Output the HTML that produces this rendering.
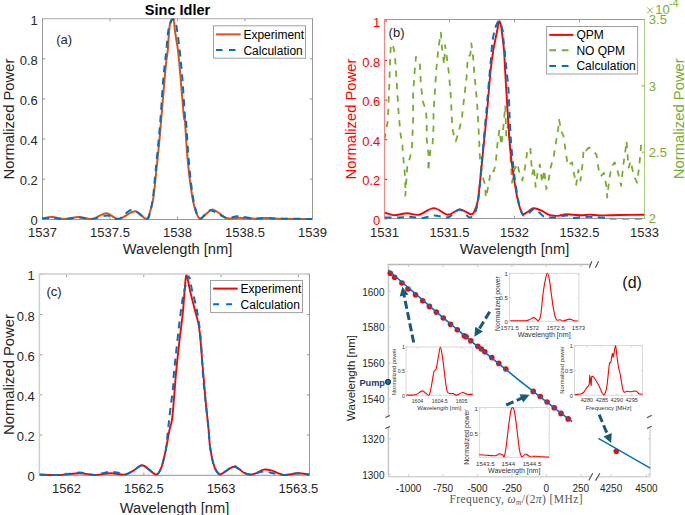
<!DOCTYPE html>
<html><head><meta charset="utf-8"><title>Figure</title>
<style>html,body{margin:0;padding:0;background:#fff;}body{width:685px;height:515px;overflow:hidden;}svg{display:block;}</style>
</head><body>
<svg width="685" height="515" viewBox="0 0 685 515">
<rect width="685" height="515" fill="#fff"/>
<defs>
<clipPath id="clipA"><rect x="41.5" y="18.6" width="271.0" height="202.8"/></clipPath>
<clipPath id="clipB"><rect x="384.5" y="19.5" width="260.0" height="200.0"/></clipPath>
<clipPath id="clipC"><rect x="39.5" y="274.4" width="270.0" height="201.8"/></clipPath>
</defs>
<line x1="42.5" y1="219.4" x2="42.5" y2="216.70000000000002" stroke="#999999" stroke-width="1" />
<line x1="42.5" y1="18.6" x2="42.5" y2="21.3" stroke="#999999" stroke-width="1" />
<text x="42.5" y="236.6" font-size="13" text-anchor="middle" fill="#262626" font-weight="normal" font-family='"Liberation Sans", sans-serif' >1537</text>
<line x1="110.0" y1="219.4" x2="110.0" y2="216.70000000000002" stroke="#999999" stroke-width="1" />
<line x1="110.0" y1="18.6" x2="110.0" y2="21.3" stroke="#999999" stroke-width="1" />
<text x="110.0" y="236.6" font-size="13" text-anchor="middle" fill="#262626" font-weight="normal" font-family='"Liberation Sans", sans-serif' >1537.5</text>
<line x1="177.5" y1="219.4" x2="177.5" y2="216.70000000000002" stroke="#999999" stroke-width="1" />
<line x1="177.5" y1="18.6" x2="177.5" y2="21.3" stroke="#999999" stroke-width="1" />
<text x="177.5" y="236.6" font-size="13" text-anchor="middle" fill="#262626" font-weight="normal" font-family='"Liberation Sans", sans-serif' >1538</text>
<line x1="245.0" y1="219.4" x2="245.0" y2="216.70000000000002" stroke="#999999" stroke-width="1" />
<line x1="245.0" y1="18.6" x2="245.0" y2="21.3" stroke="#999999" stroke-width="1" />
<text x="245.0" y="236.6" font-size="13" text-anchor="middle" fill="#262626" font-weight="normal" font-family='"Liberation Sans", sans-serif' >1538.5</text>
<line x1="312.5" y1="219.4" x2="312.5" y2="216.70000000000002" stroke="#999999" stroke-width="1" />
<line x1="312.5" y1="18.6" x2="312.5" y2="21.3" stroke="#999999" stroke-width="1" />
<text x="312.5" y="236.6" font-size="13" text-anchor="middle" fill="#262626" font-weight="normal" font-family='"Liberation Sans", sans-serif' >1539</text>
<line x1="42.5" y1="219.4" x2="45.2" y2="219.4" stroke="#999999" stroke-width="1" />
<line x1="312.5" y1="219.4" x2="309.8" y2="219.4" stroke="#999999" stroke-width="1" />
<text x="37.8" y="225.4" font-size="13" text-anchor="end" fill="#262626" font-weight="normal" font-family='"Liberation Sans", sans-serif' >0</text>
<line x1="42.5" y1="179.24" x2="45.2" y2="179.24" stroke="#999999" stroke-width="1" />
<line x1="312.5" y1="179.24" x2="309.8" y2="179.24" stroke="#999999" stroke-width="1" />
<text x="37.8" y="185.24" font-size="13" text-anchor="end" fill="#262626" font-weight="normal" font-family='"Liberation Sans", sans-serif' >0.2</text>
<line x1="42.5" y1="139.07999999999998" x2="45.2" y2="139.07999999999998" stroke="#999999" stroke-width="1" />
<line x1="312.5" y1="139.07999999999998" x2="309.8" y2="139.07999999999998" stroke="#999999" stroke-width="1" />
<text x="37.8" y="145.07999999999998" font-size="13" text-anchor="end" fill="#262626" font-weight="normal" font-family='"Liberation Sans", sans-serif' >0.4</text>
<line x1="42.5" y1="98.92" x2="45.2" y2="98.92" stroke="#999999" stroke-width="1" />
<line x1="312.5" y1="98.92" x2="309.8" y2="98.92" stroke="#999999" stroke-width="1" />
<text x="37.8" y="104.92" font-size="13" text-anchor="end" fill="#262626" font-weight="normal" font-family='"Liberation Sans", sans-serif' >0.6</text>
<line x1="42.5" y1="58.75999999999999" x2="45.2" y2="58.75999999999999" stroke="#999999" stroke-width="1" />
<line x1="312.5" y1="58.75999999999999" x2="309.8" y2="58.75999999999999" stroke="#999999" stroke-width="1" />
<text x="37.8" y="64.75999999999999" font-size="13" text-anchor="end" fill="#262626" font-weight="normal" font-family='"Liberation Sans", sans-serif' >0.8</text>
<line x1="42.5" y1="18.599999999999994" x2="45.2" y2="18.599999999999994" stroke="#999999" stroke-width="1" />
<line x1="312.5" y1="18.599999999999994" x2="309.8" y2="18.599999999999994" stroke="#999999" stroke-width="1" />
<text x="37.8" y="24.599999999999994" font-size="13" text-anchor="end" fill="#262626" font-weight="normal" font-family='"Liberation Sans", sans-serif' >1</text>
<line x1="42.5" y1="18.6" x2="312.5" y2="18.6" stroke="#bababa" stroke-width="1.2" />
<line x1="42.5" y1="219.5" x2="312.5" y2="219.5" stroke="#999999" stroke-width="1" />
<line x1="42.5" y1="18.5" x2="42.5" y2="219.5" stroke="#999999" stroke-width="1" />
<line x1="312.5" y1="18.5" x2="312.5" y2="219.5" stroke="#999999" stroke-width="1" />
<text x="177.5" y="15" font-size="14.5" text-anchor="middle" fill="#000" font-weight="bold" font-family='"Liberation Sans", sans-serif' >Sinc Idler</text>
<text x="177.5" y="253.8" font-size="14.7" text-anchor="middle" fill="#262626" font-weight="normal" font-family='"Liberation Sans", sans-serif' >Wavelength [nm]</text>
<text x="13.5" y="119" font-size="14.8" text-anchor="middle" fill="#262626" font-weight="normal" font-family='"Liberation Sans", sans-serif' transform="rotate(-90 13.5 119)" >Normalized Power</text>
<text x="56.2" y="43.7" font-size="13" text-anchor="start" fill="#262626" font-weight="normal" font-family='"Liberation Sans", sans-serif' >(a)</text>
<g clip-path="url(#clipA)">
<path d="M42.00,218.60 C43.70,218.33 48.45,216.93 52.20,217.00 C55.95,217.07 60.07,219.00 64.50,219.00 C68.93,219.00 74.20,217.00 78.80,217.00 C83.40,217.00 87.50,219.62 92.10,219.00 C96.70,218.38 101.98,213.30 106.40,213.30 C110.82,213.30 113.83,219.33 118.60,219.00 C123.37,218.67 130.40,211.30 135.00,211.30 C139.60,211.30 143.65,219.07 146.20,219.00 C148.75,218.93 149.10,214.47 150.30,210.90 C151.50,207.33 152.40,204.25 153.40,197.60 C154.40,190.95 155.30,180.53 156.30,171.00 C157.30,161.47 158.55,149.40 159.40,140.40 C160.25,131.40 160.55,127.02 161.40,117.00 C162.25,106.98 163.70,89.47 164.50,80.30 C165.30,71.13 165.65,67.05 166.20,62.00 C166.75,56.95 167.38,54.17 167.80,50.00 C168.22,45.83 168.38,41.05 168.70,37.00 C169.02,32.95 169.15,28.75 169.70,25.70 C170.25,22.65 171.28,19.35 172.00,18.70 C172.72,18.05 173.53,20.00 174.00,21.80 C174.47,23.60 174.42,26.53 174.80,29.50 C175.18,32.47 175.72,35.70 176.30,39.60 C176.88,43.50 177.55,46.12 178.30,52.90 C179.05,59.68 179.87,69.62 180.80,80.30 C181.73,90.98 183.22,110.38 183.90,117.00 C184.58,123.62 184.40,114.40 184.90,120.00 C185.40,125.60 186.05,140.40 186.90,150.60 C187.75,160.80 188.80,172.02 190.00,181.20 C191.20,190.38 192.48,199.47 194.10,205.70 C195.72,211.93 197.67,217.23 199.70,218.60 C201.73,219.97 204.18,215.43 206.30,213.90 C208.42,212.37 210.22,209.48 212.40,209.40 C214.58,209.32 216.92,211.92 219.40,213.40 C221.88,214.88 224.02,217.58 227.30,218.30 C230.58,219.02 234.50,217.63 239.10,217.70 C243.70,217.77 250.30,218.67 254.90,218.70 C259.50,218.73 262.77,217.90 266.70,217.90 C270.63,217.90 270.95,218.53 278.50,218.70 C286.05,218.87 306.42,218.87 312.00,218.90" fill="none" stroke="#D95319" stroke-width="2" stroke-linejoin="round" />
<path d="M42.00,218.60 C43.67,218.50 48.25,217.93 52.00,218.00 C55.75,218.07 60.03,219.08 64.50,219.00 C68.97,218.92 74.20,217.50 78.80,217.50 C83.40,217.50 87.33,219.33 92.10,219.00 C96.87,218.67 102.98,215.50 107.40,215.50 C111.82,215.50 114.50,219.93 118.60,219.00 C122.70,218.07 127.35,209.90 132.00,209.90 C136.65,209.90 143.45,218.83 146.50,219.00 C149.55,219.17 149.22,214.47 150.30,210.90 C151.38,207.33 152.12,204.25 153.00,197.60 C153.88,190.95 154.67,180.53 155.60,171.00 C156.53,161.47 157.77,149.40 158.60,140.40 C159.43,131.40 159.83,127.02 160.60,117.00 C161.37,106.98 162.47,89.47 163.20,80.30 C163.93,71.13 164.47,67.05 165.00,62.00 C165.53,56.95 165.98,54.17 166.40,50.00 C166.82,45.83 167.02,41.00 167.50,37.00 C167.98,33.00 168.38,29.00 169.30,26.00 C170.22,23.00 171.88,19.33 173.00,19.00 C174.12,18.67 175.23,21.50 176.00,24.00 C176.77,26.50 177.10,30.50 177.60,34.00 C178.10,37.50 178.55,41.33 179.00,45.00 C179.45,48.67 179.72,50.12 180.30,56.00 C180.88,61.88 181.72,70.13 182.50,80.30 C183.28,90.47 184.42,110.38 185.00,117.00 C185.58,123.62 185.50,114.40 186.00,120.00 C186.50,125.60 187.20,140.40 188.00,150.60 C188.80,160.80 189.70,172.02 190.80,181.20 C191.90,190.38 193.12,199.47 194.60,205.70 C196.08,211.93 197.75,217.40 199.70,218.60 C201.65,219.80 204.35,214.27 206.30,212.90 C208.25,211.53 209.22,210.15 211.40,210.40 C213.58,210.65 216.75,213.08 219.40,214.40 C222.05,215.72 224.18,217.98 227.30,218.30 C230.42,218.62 233.50,216.23 238.10,216.30 C242.70,216.37 250.13,218.43 254.90,218.70 C259.67,218.97 262.77,217.90 266.70,217.90 C270.63,217.90 270.95,218.53 278.50,218.70 C286.05,218.87 306.42,218.87 312.00,218.90" fill="none" stroke="#0072BD" stroke-width="2" stroke-linejoin="round" stroke-dasharray="7,5.4" />
</g>
<rect x="213.5" y="25.8" width="92" height="32.4" fill="#fff" stroke="#a0a0a0" stroke-width="1"/>
<line x1="216" y1="34.4" x2="240.6" y2="34.4" stroke="#D95319" stroke-width="2" />
<line x1="216" y1="50" x2="235.5" y2="50" stroke="#0072BD" stroke-width="2" stroke-dasharray="6.5,6.5"/>
<text x="243.4" y="38.9" font-size="12" text-anchor="start" fill="#000" font-weight="normal" font-family='"Liberation Sans", sans-serif' >Experiment</text>
<text x="243.4" y="54.5" font-size="12" text-anchor="start" fill="#000" font-weight="normal" font-family='"Liberation Sans", sans-serif' >Calculation</text>
<line x1="384.5" y1="218.5" x2="384.5" y2="215.8" stroke="#999999" stroke-width="1" />
<line x1="384.5" y1="19.5" x2="384.5" y2="22.2" stroke="#999999" stroke-width="1" />
<text x="384.5" y="236.6" font-size="13" text-anchor="middle" fill="#262626" font-weight="normal" font-family='"Liberation Sans", sans-serif' >1531</text>
<line x1="449.5" y1="218.5" x2="449.5" y2="215.8" stroke="#999999" stroke-width="1" />
<line x1="449.5" y1="19.5" x2="449.5" y2="22.2" stroke="#999999" stroke-width="1" />
<text x="449.5" y="236.6" font-size="13" text-anchor="middle" fill="#262626" font-weight="normal" font-family='"Liberation Sans", sans-serif' >1531.5</text>
<line x1="514.5" y1="218.5" x2="514.5" y2="215.8" stroke="#999999" stroke-width="1" />
<line x1="514.5" y1="19.5" x2="514.5" y2="22.2" stroke="#999999" stroke-width="1" />
<text x="514.5" y="236.6" font-size="13" text-anchor="middle" fill="#262626" font-weight="normal" font-family='"Liberation Sans", sans-serif' >1532</text>
<line x1="579.5" y1="218.5" x2="579.5" y2="215.8" stroke="#999999" stroke-width="1" />
<line x1="579.5" y1="19.5" x2="579.5" y2="22.2" stroke="#999999" stroke-width="1" />
<text x="579.5" y="236.6" font-size="13" text-anchor="middle" fill="#262626" font-weight="normal" font-family='"Liberation Sans", sans-serif' >1532.5</text>
<line x1="644.5" y1="218.5" x2="644.5" y2="215.8" stroke="#999999" stroke-width="1" />
<line x1="644.5" y1="19.5" x2="644.5" y2="22.2" stroke="#999999" stroke-width="1" />
<text x="644.5" y="236.6" font-size="13" text-anchor="middle" fill="#262626" font-weight="normal" font-family='"Liberation Sans", sans-serif' >1533</text>
<line x1="384.5" y1="218.9" x2="387.2" y2="218.9" stroke="#FF0000" stroke-width="1" />
<text x="380.3" y="224.9" font-size="13" text-anchor="end" fill="#FF0000" font-weight="normal" font-family='"Liberation Sans", sans-serif' >0</text>
<line x1="384.5" y1="179.32" x2="387.2" y2="179.32" stroke="#FF0000" stroke-width="1" />
<text x="380.3" y="185.32" font-size="13" text-anchor="end" fill="#FF0000" font-weight="normal" font-family='"Liberation Sans", sans-serif' >0.2</text>
<line x1="384.5" y1="139.74" x2="387.2" y2="139.74" stroke="#FF0000" stroke-width="1" />
<text x="380.3" y="145.74" font-size="13" text-anchor="end" fill="#FF0000" font-weight="normal" font-family='"Liberation Sans", sans-serif' >0.4</text>
<line x1="384.5" y1="100.16000000000001" x2="387.2" y2="100.16000000000001" stroke="#FF0000" stroke-width="1" />
<text x="380.3" y="106.16000000000001" font-size="13" text-anchor="end" fill="#FF0000" font-weight="normal" font-family='"Liberation Sans", sans-serif' >0.6</text>
<line x1="384.5" y1="60.579999999999984" x2="387.2" y2="60.579999999999984" stroke="#FF0000" stroke-width="1" />
<text x="380.3" y="66.57999999999998" font-size="13" text-anchor="end" fill="#FF0000" font-weight="normal" font-family='"Liberation Sans", sans-serif' >0.8</text>
<line x1="384.5" y1="21.0" x2="387.2" y2="21.0" stroke="#FF0000" stroke-width="1" />
<text x="380.3" y="27.0" font-size="13" text-anchor="end" fill="#FF0000" font-weight="normal" font-family='"Liberation Sans", sans-serif' >1</text>
<line x1="644.5" y1="218.5" x2="641.8" y2="218.5" stroke="#77AC30" stroke-width="1" />
<text x="648.8" y="223.4" font-size="13" text-anchor="start" fill="#77AC30" font-weight="normal" font-family='"Liberation Sans", sans-serif' >2</text>
<line x1="644.5" y1="152.16666666666669" x2="641.8" y2="152.16666666666669" stroke="#77AC30" stroke-width="1" />
<text x="648.8" y="157.0666666666667" font-size="13" text-anchor="start" fill="#77AC30" font-weight="normal" font-family='"Liberation Sans", sans-serif' >2.5</text>
<line x1="644.5" y1="85.83333333333334" x2="641.8" y2="85.83333333333334" stroke="#77AC30" stroke-width="1" />
<text x="648.8" y="90.73333333333335" font-size="13" text-anchor="start" fill="#77AC30" font-weight="normal" font-family='"Liberation Sans", sans-serif' >3</text>
<line x1="644.5" y1="19.5" x2="641.8" y2="19.5" stroke="#77AC30" stroke-width="1" />
<text x="648.8" y="24.4" font-size="13" text-anchor="start" fill="#77AC30" font-weight="normal" font-family='"Liberation Sans", sans-serif' >3.5</text>
<line x1="384.5" y1="19.5" x2="644.5" y2="19.5" stroke="#999999" stroke-width="1" />
<line x1="384.5" y1="218.5" x2="644.5" y2="218.5" stroke="#999999" stroke-width="1" />
<line x1="384.5" y1="19.5" x2="384.5" y2="218.5" stroke="#ff8080" stroke-width="1" />
<line x1="644.5" y1="19.5" x2="644.5" y2="218.5" stroke="#a8cc80" stroke-width="1" />
<line x1="647.2" y1="7.4" x2="652.8" y2="13.2" stroke="#77AC30" stroke-width="0.9" />
<line x1="647.2" y1="13.2" x2="652.8" y2="7.4" stroke="#77AC30" stroke-width="0.9" />
<text x="655.2" y="13.7" font-size="13" text-anchor="start" fill="#77AC30" font-weight="normal" font-family='"Liberation Sans", sans-serif' >10</text>
<text x="669.3" y="6.9" font-size="10.3" text-anchor="start" fill="#77AC30" font-weight="normal" font-family='"Liberation Sans", sans-serif' >-4</text>
<text x="514.5" y="253.8" font-size="14.7" text-anchor="middle" fill="#262626" font-weight="normal" font-family='"Liberation Sans", sans-serif' >Wavelength [nm]</text>
<text x="356" y="119" font-size="14.8" text-anchor="middle" fill="#FF0000" font-weight="normal" font-family='"Liberation Sans", sans-serif' transform="rotate(-90 356 119)" >Normalized Power</text>
<text x="684" y="118.7" font-size="14.8" text-anchor="middle" fill="#77AC30" font-weight="normal" font-family='"Liberation Sans", sans-serif' transform="rotate(-90 684 118.7)" >Normalized Power</text>
<text x="388.6" y="37.2" font-size="13" text-anchor="start" fill="#262626" font-weight="normal" font-family='"Liberation Sans", sans-serif' >(b)</text>
<g clip-path="url(#clipB)">
<polyline points="384.5,139.4 387.9,120.0 390.8,44.3 392.7,44.3 394.7,53.0 396.6,80.0 398.6,113.0 400.5,133.6 402.4,145.2 403.4,158.8 405.3,178.2 405.3,195.7 407.3,166.6 410.2,156.9 412.1,145.2 413.1,120.0 413.1,93.7 415.0,66.6 416.0,56.9 418.0,61.7 419.9,64.6 420.9,84.0 422.8,101.5 425.7,109.3 426.7,120.0 426.7,139.4 428.6,155.0 428.2,171.4 430.6,148.1 432.5,145.2 433.5,127.8 433.5,113.0 436.4,68.5 438.3,49.1 440.8,32.6 442.2,49.1 444.1,64.6 445.1,45.2 447.1,58.8 449.0,74.3 450.9,97.6 451.9,120.0 452.9,131.6 455.8,141.3 458.7,131.6 461.6,120.0 463.5,103.4 466.5,78.2 467.8,56.9 470.3,54.9 471.3,43.3 473.3,58.8 474.2,72.4 475.2,82.1 477.1,103.4 478.1,120.0 479.1,139.4 480.0,158.8 482.0,174.3 484.9,184.0 485.9,197.6 488.8,184.0 490.7,170.4 493.6,171.4 495.6,164.6 497.5,143.3 499.4,129.7 501.4,145.2 503.3,127.8 505.3,105.4 506.2,135.5 508.2,123.9 510.0,150.0 512.1,182.6 514.3,169.8 517.5,163.4 519.6,174.1 522.4,180.5 525.0,167.7 527.1,152.7 530.3,147.4 531.4,163.4 532.4,174.1 533.9,166.6 535.6,186.9 537.4,174.1 539.9,164.5 542.1,182.6 544.2,169.8 546.3,189.1 548.5,180.5 550.6,167.7 553.8,155.9 556.0,142.0 558.1,129.2 559.1,119.6 561.3,131.4 563.4,135.6 565.6,150.6 567.7,165.6 572.0,162.4 574.1,174.1 576.2,184.8 578.4,169.8 580.5,180.5 582.6,163.4 583.7,148.5 585.9,150.6 589.1,147.4 592.3,149.5 596.5,154.9 598.7,169.8 600.8,176.2 604.0,173.0 606.2,184.8 607.2,197.6 609.4,178.4 611.5,166.6 614.7,162.4 617.9,172.0 621.1,185.9 623.2,165.6 625.4,150.6 626.5,141.0 628.6,167.7 630.7,161.3 633.9,176.2 637.1,182.6 639.3,165.6 641.4,142.0 643.5,144.2" fill="none" stroke="#77AC30" stroke-width="1.8" stroke-linejoin="round" stroke-dasharray="6.2,6.2" />
<path d="M384.50,212.60 C386.05,213.02 390.03,214.98 393.80,215.10 C397.57,215.22 402.90,213.37 407.10,213.30 C411.30,213.23 414.55,215.57 419.00,214.70 C423.45,213.83 429.00,208.10 433.80,208.10 C438.60,208.10 443.48,214.47 447.80,214.70 C452.12,214.93 455.85,209.57 459.70,209.50 C463.55,209.43 468.45,214.02 470.90,214.30 C473.35,214.58 473.28,213.28 474.40,211.20 C475.52,209.12 476.72,206.22 477.60,201.80 C478.48,197.38 478.98,191.10 479.70,184.70 C480.42,178.30 481.18,170.52 481.90,163.40 C482.62,156.28 483.12,150.90 484.00,142.00 C484.88,133.10 486.08,122.00 487.20,110.00 C488.32,98.00 489.68,79.97 490.70,70.00 C491.72,60.03 492.42,55.82 493.30,50.20 C494.18,44.58 495.23,40.17 496.00,36.30 C496.77,32.43 497.40,29.48 497.90,27.00 C498.40,24.52 498.60,22.07 499.00,21.40 C499.40,20.73 499.92,22.07 500.30,23.00 C500.68,23.93 500.95,24.78 501.30,27.00 C501.65,29.22 501.95,32.43 502.40,36.30 C502.85,40.17 503.55,44.58 504.00,50.20 C504.45,55.82 504.52,60.03 505.10,70.00 C505.68,79.97 506.75,98.00 507.50,110.00 C508.25,122.00 508.88,133.10 509.60,142.00 C510.32,150.90 510.90,156.28 511.80,163.40 C512.70,170.52 513.93,178.30 515.00,184.70 C516.07,191.10 516.95,196.98 518.20,201.80 C519.45,206.62 520.83,211.98 522.50,213.60 C524.17,215.22 526.37,212.38 528.20,211.50 C530.03,210.62 531.37,208.48 533.50,208.30 C535.63,208.12 538.50,209.33 541.00,210.40 C543.50,211.47 546.17,213.80 548.50,214.70 C550.83,215.60 553.08,215.67 555.00,215.80 C556.92,215.93 558.00,215.75 560.00,215.50 C562.00,215.25 563.67,214.33 567.00,214.30 C570.33,214.27 576.17,215.25 580.00,215.30 C583.83,215.35 586.67,214.58 590.00,214.60 C593.33,214.62 595.00,215.33 600.00,215.40 C605.00,215.47 612.58,215.10 620.00,215.00 C627.42,214.90 640.42,214.83 644.50,214.80" fill="none" stroke="#FF0000" stroke-width="1.9" stroke-linejoin="round" />
<path d="M384.50,217.50 C386.07,217.50 394.79,217.55 398.00,217.50 C401.21,217.45 409.06,217.04 412.00,217.10 C414.94,217.16 420.57,218.20 423.20,218.00 C425.82,217.80 431.88,215.46 434.50,215.40 C437.12,215.34 443.82,217.42 445.70,217.50 C447.58,217.58 448.97,217.03 450.60,216.10 C452.23,215.17 457.50,209.34 459.70,209.50 C461.90,209.66 467.70,217.14 469.50,217.50 C471.30,217.86 474.11,214.43 475.10,212.60 C476.09,210.77 477.44,205.06 478.00,201.80 C478.56,198.55 479.47,189.18 479.90,184.70 C480.33,180.22 481.27,168.38 481.70,163.40 C482.13,158.42 483.04,148.23 483.60,142.00 C484.16,135.77 485.74,118.60 486.50,110.00 C487.26,101.40 489.55,74.53 490.10,68.30 C490.65,62.07 490.94,59.59 491.20,56.60 C491.46,53.61 491.87,45.93 492.30,42.70 C492.73,39.47 494.12,31.43 494.90,28.90 C495.68,26.37 498.11,20.87 499.00,21.00 C499.89,21.13 501.98,27.78 502.50,30.00 C503.02,32.22 503.25,37.64 503.50,40.00 C503.75,42.36 504.33,47.52 504.60,50.20 C504.87,52.88 505.35,58.36 505.80,63.00 C506.25,67.64 508.06,83.82 508.50,90.00 C508.94,96.18 509.31,109.93 509.60,116.00 C509.89,122.07 510.60,136.47 511.00,142.00 C511.40,147.53 512.53,158.91 513.00,163.40 C513.47,167.89 514.36,176.02 515.00,180.50 C515.64,184.98 517.59,197.78 518.50,201.80 C519.41,205.83 521.69,213.58 522.80,215.00 C523.91,216.42 526.62,214.74 528.00,214.00 C529.38,213.26 532.71,208.37 534.60,208.70 C536.49,209.03 541.70,215.77 544.20,216.80 C546.70,217.83 553.92,217.59 556.00,217.50 C558.08,217.41 560.72,216.23 562.00,216.00 C563.28,215.77 565.83,215.27 567.00,215.50 C568.17,215.73 570.48,217.77 572.00,218.00 C573.52,218.23 577.90,217.64 580.00,217.50 C582.10,217.36 587.67,216.80 590.00,216.80 C592.33,216.80 598.02,217.38 600.00,217.50 C601.98,217.62 605.60,217.53 607.00,217.80 C608.40,218.07 607.62,219.57 612.00,219.80 C616.38,220.03 640.71,219.80 644.50,219.80" fill="none" stroke="#0072BD" stroke-width="2" stroke-linejoin="round" stroke-dasharray="7,5.4" />
</g>
<rect x="546.6" y="26.5" width="91" height="47.5" fill="#fff" stroke="#a0a0a0" stroke-width="1"/>
<line x1="549.3" y1="34.9" x2="573.4" y2="34.9" stroke="#FF0000" stroke-width="2" />
<line x1="549.3" y1="50.3" x2="568.5" y2="50.3" stroke="#77AC30" stroke-width="2" stroke-dasharray="6.7,5.8"/>
<line x1="549.3" y1="65.9" x2="568.5" y2="65.9" stroke="#0072BD" stroke-width="2" stroke-dasharray="6.7,5.8"/>
<text x="576.4" y="39.4" font-size="12" text-anchor="start" fill="#000" font-weight="normal" font-family='"Liberation Sans", sans-serif' >QPM</text>
<text x="576.4" y="54.8" font-size="12" text-anchor="start" fill="#000" font-weight="normal" font-family='"Liberation Sans", sans-serif' >NO QPM</text>
<text x="576.4" y="70.4" font-size="12" text-anchor="start" fill="#000" font-weight="normal" font-family='"Liberation Sans", sans-serif' >Calculation</text>
<line x1="66.54636519747679" y1="475.2" x2="66.54636519747679" y2="472.5" stroke="#999999" stroke-width="1" />
<line x1="66.54636519747679" y1="274.4" x2="66.54636519747679" y2="277.09999999999997" stroke="#999999" stroke-width="1" />
<text x="66.54636519747679" y="492.6" font-size="13" text-anchor="middle" fill="#262626" font-weight="normal" font-family='"Liberation Sans", sans-serif' >1562</text>
<line x1="143.82169433314485" y1="475.2" x2="143.82169433314485" y2="472.5" stroke="#999999" stroke-width="1" />
<line x1="143.82169433314485" y1="274.4" x2="143.82169433314485" y2="277.09999999999997" stroke="#999999" stroke-width="1" />
<text x="143.82169433314485" y="492.6" font-size="13" text-anchor="middle" fill="#262626" font-weight="normal" font-family='"Liberation Sans", sans-serif' >1562.5</text>
<line x1="221.0970234688129" y1="475.2" x2="221.0970234688129" y2="472.5" stroke="#999999" stroke-width="1" />
<line x1="221.0970234688129" y1="274.4" x2="221.0970234688129" y2="277.09999999999997" stroke="#999999" stroke-width="1" />
<text x="221.0970234688129" y="492.6" font-size="13" text-anchor="middle" fill="#262626" font-weight="normal" font-family='"Liberation Sans", sans-serif' >1563</text>
<line x1="298.37235260448097" y1="475.2" x2="298.37235260448097" y2="472.5" stroke="#999999" stroke-width="1" />
<line x1="298.37235260448097" y1="274.4" x2="298.37235260448097" y2="277.09999999999997" stroke="#999999" stroke-width="1" />
<text x="298.37235260448097" y="492.6" font-size="13" text-anchor="middle" fill="#262626" font-weight="normal" font-family='"Liberation Sans", sans-serif' >1563.5</text>
<line x1="39.5" y1="475.2" x2="42.2" y2="475.2" stroke="#999999" stroke-width="1" />
<line x1="309.5" y1="475.2" x2="306.8" y2="475.2" stroke="#999999" stroke-width="1" />
<text x="34.8" y="481.2" font-size="13" text-anchor="end" fill="#262626" font-weight="normal" font-family='"Liberation Sans", sans-serif' >0</text>
<line x1="39.5" y1="435.03999999999996" x2="42.2" y2="435.03999999999996" stroke="#999999" stroke-width="1" />
<line x1="309.5" y1="435.03999999999996" x2="306.8" y2="435.03999999999996" stroke="#999999" stroke-width="1" />
<text x="34.8" y="441.03999999999996" font-size="13" text-anchor="end" fill="#262626" font-weight="normal" font-family='"Liberation Sans", sans-serif' >0.2</text>
<line x1="39.5" y1="394.88" x2="42.2" y2="394.88" stroke="#999999" stroke-width="1" />
<line x1="309.5" y1="394.88" x2="306.8" y2="394.88" stroke="#999999" stroke-width="1" />
<text x="34.8" y="400.88" font-size="13" text-anchor="end" fill="#262626" font-weight="normal" font-family='"Liberation Sans", sans-serif' >0.4</text>
<line x1="39.5" y1="354.71999999999997" x2="42.2" y2="354.71999999999997" stroke="#999999" stroke-width="1" />
<line x1="309.5" y1="354.71999999999997" x2="306.8" y2="354.71999999999997" stroke="#999999" stroke-width="1" />
<text x="34.8" y="360.71999999999997" font-size="13" text-anchor="end" fill="#262626" font-weight="normal" font-family='"Liberation Sans", sans-serif' >0.6</text>
<line x1="39.5" y1="314.55999999999995" x2="42.2" y2="314.55999999999995" stroke="#999999" stroke-width="1" />
<line x1="309.5" y1="314.55999999999995" x2="306.8" y2="314.55999999999995" stroke="#999999" stroke-width="1" />
<text x="34.8" y="320.55999999999995" font-size="13" text-anchor="end" fill="#262626" font-weight="normal" font-family='"Liberation Sans", sans-serif' >0.8</text>
<line x1="39.5" y1="274.4" x2="42.2" y2="274.4" stroke="#999999" stroke-width="1" />
<line x1="309.5" y1="274.4" x2="306.8" y2="274.4" stroke="#999999" stroke-width="1" />
<text x="34.8" y="280.4" font-size="13" text-anchor="end" fill="#262626" font-weight="normal" font-family='"Liberation Sans", sans-serif' >1</text>
<line x1="39.4" y1="273.9" x2="309.5" y2="273.9" stroke="#cdcdcd" stroke-width="1.5" />
<line x1="39.4" y1="273.2" x2="39.4" y2="475.5" stroke="#cdcdcd" stroke-width="1.5" />
<line x1="309.5" y1="273.9" x2="309.5" y2="475.5" stroke="#999999" stroke-width="1" />
<line x1="39.4" y1="475.3" x2="309.5" y2="475.3" stroke="#a8a8a8" stroke-width="1.2" />
<text x="174.5" y="512.6" font-size="14.7" text-anchor="middle" fill="#262626" font-weight="normal" font-family='"Liberation Sans", sans-serif' >Wavelength [nm]</text>
<text x="13.5" y="374.5" font-size="14.8" text-anchor="middle" fill="#262626" font-weight="normal" font-family='"Liberation Sans", sans-serif' transform="rotate(-90 13.5 374.5)" >Normalized Power</text>
<text x="46.5" y="296.3" font-size="13" text-anchor="start" fill="#262626" font-weight="normal" font-family='"Liberation Sans", sans-serif' >(c)</text>
<g clip-path="url(#clipC)">
<path d="M39.50,474.60 C42.82,474.67 52.67,475.22 59.40,475.00 C66.13,474.78 74.10,473.30 79.90,473.30 C85.70,473.30 89.10,475.00 94.20,475.00 C99.30,475.00 105.40,473.37 110.50,473.30 C115.60,473.23 121.05,475.00 124.80,474.60 C128.55,474.20 130.10,472.47 133.00,470.90 C135.90,469.33 139.47,465.37 142.20,465.20 C144.93,465.03 147.02,468.33 149.40,469.90 C151.78,471.47 154.50,475.03 156.50,474.60 C158.50,474.17 159.87,471.33 161.40,467.30 C162.93,463.27 164.35,456.63 165.70,450.40 C167.05,444.17 168.43,435.10 169.50,429.90 C170.57,424.70 171.32,424.90 172.10,419.20 C172.88,413.50 173.50,403.90 174.20,395.70 C174.90,387.50 175.42,379.20 176.30,370.00 C177.18,360.80 178.42,350.00 179.50,340.50 C180.58,331.00 181.90,321.90 182.80,313.00 C183.70,304.10 184.27,293.38 184.90,287.10 C185.53,280.82 185.72,274.58 186.60,275.30 C187.48,276.02 188.88,285.87 190.20,291.40 C191.52,296.93 193.07,302.80 194.50,308.50 C195.93,314.20 197.73,319.55 198.80,325.60 C199.87,331.65 200.28,338.23 200.90,344.80 C201.52,351.37 201.93,358.30 202.50,365.00 C203.07,371.70 203.72,378.33 204.30,385.00 C204.88,391.67 205.32,397.88 206.00,405.00 C206.68,412.12 207.73,420.80 208.40,427.70 C209.07,434.60 209.22,440.57 210.00,446.40 C210.78,452.23 212.03,458.62 213.10,462.70 C214.17,466.78 215.18,468.93 216.40,470.90 C217.62,472.87 218.77,474.50 220.40,474.50 C222.03,474.50 224.02,472.18 226.20,470.90 C228.38,469.62 231.33,467.08 233.50,466.80 C235.67,466.52 237.43,468.20 239.20,469.20 C240.97,470.20 242.18,471.90 244.10,472.80 C246.02,473.70 248.52,474.60 250.70,474.60 C252.88,474.60 255.02,473.63 257.20,472.80 C259.38,471.97 261.35,469.97 263.80,469.60 C266.25,469.23 269.45,469.98 271.90,470.60 C274.35,471.22 276.32,472.57 278.50,473.30 C280.68,474.03 281.73,475.00 285.00,475.00 C288.27,475.00 294.02,473.38 298.10,473.30 C302.18,473.22 307.60,474.30 309.50,474.50" fill="none" stroke="#FF0000" stroke-width="1.9" stroke-linejoin="round" />
<path d="M39.50,474.60 C42.82,474.67 52.67,475.35 59.40,475.00 C66.13,474.65 74.10,472.50 79.90,472.50 C85.70,472.50 89.43,475.10 94.20,475.00 C98.97,474.90 104.75,472.32 108.50,471.90 C112.25,471.48 113.98,472.05 116.70,472.50 C119.42,472.95 122.08,474.87 124.80,474.60 C127.52,474.33 130.10,472.47 133.00,470.90 C135.90,469.33 139.47,465.37 142.20,465.20 C144.93,465.03 147.02,468.33 149.40,469.90 C151.78,471.47 154.50,475.03 156.50,474.60 C158.50,474.17 159.87,471.33 161.40,467.30 C162.93,463.27 164.63,456.28 165.70,450.40 C166.77,444.52 167.10,438.23 167.80,432.00 C168.50,425.77 169.02,420.48 169.90,413.00 C170.78,405.52 172.38,394.18 173.10,387.10 C173.82,380.02 172.95,382.85 174.20,370.50 C175.45,358.15 178.88,326.42 180.60,313.00 C182.32,299.58 183.15,296.10 184.50,290.00 C185.85,283.90 187.45,276.40 188.70,276.40 C189.95,276.40 190.68,284.65 192.00,290.00 C193.32,295.35 195.30,301.83 196.60,308.50 C197.90,315.17 198.98,323.08 199.80,330.00 C200.62,336.92 200.95,342.18 201.50,350.00 C202.05,357.82 202.48,368.93 203.10,376.90 C203.72,384.87 204.32,389.33 205.20,397.80 C206.08,406.27 207.60,419.60 208.40,427.70 C209.20,435.80 209.22,440.57 210.00,446.40 C210.78,452.23 212.03,458.62 213.10,462.70 C214.17,466.78 215.18,468.93 216.40,470.90 C217.62,472.87 218.77,474.50 220.40,474.50 C222.03,474.50 224.02,472.35 226.20,470.90 C228.38,469.45 231.33,466.08 233.50,465.80 C235.67,465.52 237.43,468.03 239.20,469.20 C240.97,470.37 242.18,471.90 244.10,472.80 C246.02,473.70 248.52,474.60 250.70,474.60 C252.88,474.60 254.82,473.32 257.20,472.80 C259.58,472.28 262.55,471.47 265.00,471.50 C267.45,471.53 269.65,472.53 271.90,473.00 C274.15,473.47 276.32,473.97 278.50,474.30 C280.68,474.63 281.73,475.17 285.00,475.00 C288.27,474.83 294.02,473.38 298.10,473.30 C302.18,473.22 307.60,474.30 309.50,474.50" fill="none" stroke="#0072BD" stroke-width="2" stroke-linejoin="round" stroke-dasharray="7,5.4" />
</g>
<rect x="210.5" y="280.5" width="92" height="32.1" fill="#fff" stroke="#a0a0a0" stroke-width="1"/>
<line x1="213.1" y1="288.6" x2="237.7" y2="288.6" stroke="#FF0000" stroke-width="2" />
<line x1="213.1" y1="304.2" x2="232.3" y2="304.2" stroke="#0072BD" stroke-width="2" stroke-dasharray="6,7"/>
<text x="240.6" y="293.4" font-size="12" text-anchor="start" fill="#000" font-weight="normal" font-family='"Liberation Sans", sans-serif' >Experiment</text>
<text x="240.6" y="309" font-size="12" text-anchor="start" fill="#000" font-weight="normal" font-family='"Liberation Sans", sans-serif' >Calculation</text>
<line x1="387.7" y1="264.5" x2="589.8" y2="264.5" stroke="#b8b8b8" stroke-width="1.3" />
<line x1="388.4" y1="264.5" x2="388.4" y2="416.3" stroke="#c8c8c8" stroke-width="1.5" />
<line x1="388.4" y1="427.3" x2="388.4" y2="476.8" stroke="#c8c8c8" stroke-width="1.5" />
<line x1="388.4" y1="476.8" x2="590.5" y2="476.8" stroke="#d4d4d4" stroke-width="1.6" />
<line x1="598" y1="476.8" x2="650.1" y2="476.8" stroke="#d4d4d4" stroke-width="1.6" />
<line x1="650.1" y1="428.5" x2="650.1" y2="476.8" stroke="#dadada" stroke-width="1.5" />
<line x1="385.4" y1="417.6" x2="389.9" y2="415.4" stroke="#4a4a4a" stroke-width="1.1" />
<line x1="385.4" y1="428.6" x2="389.9" y2="426.6" stroke="#4a4a4a" stroke-width="1.1" />
<line x1="647.1" y1="417.7" x2="651.7" y2="415.2" stroke="#4a4a4a" stroke-width="1.1" />
<line x1="647.1" y1="428.5" x2="651.7" y2="426.2" stroke="#4a4a4a" stroke-width="1.1" />
<line x1="589.3" y1="267.7" x2="591.8" y2="261.2" stroke="#4a4a4a" stroke-width="1.1" />
<line x1="595.4" y1="267.7" x2="598.6" y2="261.2" stroke="#4a4a4a" stroke-width="1.1" />
<line x1="588.8" y1="480.6" x2="592.7" y2="473.2" stroke="#4a4a4a" stroke-width="1.1" />
<line x1="595.5" y1="480.6" x2="599.9" y2="473.2" stroke="#4a4a4a" stroke-width="1.1" />
<line x1="408.6" y1="476.8" x2="408.6" y2="474.3" stroke="#c8c8c8" stroke-width="1" />
<line x1="408.6" y1="264.5" x2="408.6" y2="267.0" stroke="#c8c8c8" stroke-width="1" />
<text x="408.6" y="491.5" font-size="10" text-anchor="middle" fill="#262626" font-weight="normal" font-family='"Liberation Sans", sans-serif' >-1000</text>
<line x1="443.04" y1="476.8" x2="443.04" y2="474.3" stroke="#c8c8c8" stroke-width="1" />
<line x1="443.04" y1="264.5" x2="443.04" y2="267.0" stroke="#c8c8c8" stroke-width="1" />
<text x="443.04" y="491.5" font-size="10" text-anchor="middle" fill="#262626" font-weight="normal" font-family='"Liberation Sans", sans-serif' >-750</text>
<line x1="477.48" y1="476.8" x2="477.48" y2="474.3" stroke="#c8c8c8" stroke-width="1" />
<line x1="477.48" y1="264.5" x2="477.48" y2="267.0" stroke="#c8c8c8" stroke-width="1" />
<text x="477.48" y="491.5" font-size="10" text-anchor="middle" fill="#262626" font-weight="normal" font-family='"Liberation Sans", sans-serif' >-500</text>
<line x1="511.92" y1="476.8" x2="511.92" y2="474.3" stroke="#c8c8c8" stroke-width="1" />
<line x1="511.92" y1="264.5" x2="511.92" y2="267.0" stroke="#c8c8c8" stroke-width="1" />
<text x="511.92" y="491.5" font-size="10" text-anchor="middle" fill="#262626" font-weight="normal" font-family='"Liberation Sans", sans-serif' >-250</text>
<line x1="546.36" y1="476.8" x2="546.36" y2="474.3" stroke="#c8c8c8" stroke-width="1" />
<line x1="546.36" y1="264.5" x2="546.36" y2="267.0" stroke="#c8c8c8" stroke-width="1" />
<text x="546.36" y="491.5" font-size="10" text-anchor="middle" fill="#262626" font-weight="normal" font-family='"Liberation Sans", sans-serif' >0</text>
<line x1="580.8" y1="476.8" x2="580.8" y2="474.3" stroke="#c8c8c8" stroke-width="1" />
<line x1="580.8" y1="264.5" x2="580.8" y2="267.0" stroke="#c8c8c8" stroke-width="1" />
<text x="580.8" y="491.5" font-size="10" text-anchor="middle" fill="#262626" font-weight="normal" font-family='"Liberation Sans", sans-serif' >250</text>
<line x1="611.1" y1="476.8" x2="611.1" y2="474.3" stroke="#c8c8c8" stroke-width="1" />
<text x="611.1" y="491.5" font-size="10" text-anchor="middle" fill="#262626" font-weight="normal" font-family='"Liberation Sans", sans-serif' >4250</text>
<line x1="646.4" y1="476.8" x2="646.4" y2="474.3" stroke="#c8c8c8" stroke-width="1" />
<text x="646.4" y="491.5" font-size="10" text-anchor="middle" fill="#262626" font-weight="normal" font-family='"Liberation Sans", sans-serif' >4500</text>
<line x1="388.4" y1="291.2" x2="390.9" y2="291.2" stroke="#c8c8c8" stroke-width="1" />
<text x="384.5" y="295.59999999999997" font-size="10" text-anchor="end" fill="#262626" font-weight="normal" font-family='"Liberation Sans", sans-serif' >1600</text>
<line x1="388.4" y1="327.07" x2="390.9" y2="327.07" stroke="#c8c8c8" stroke-width="1" />
<text x="384.5" y="331.46999999999997" font-size="10" text-anchor="end" fill="#262626" font-weight="normal" font-family='"Liberation Sans", sans-serif' >1580</text>
<line x1="388.4" y1="362.94" x2="390.9" y2="362.94" stroke="#c8c8c8" stroke-width="1" />
<text x="384.5" y="367.34" font-size="10" text-anchor="end" fill="#262626" font-weight="normal" font-family='"Liberation Sans", sans-serif' >1560</text>
<line x1="388.4" y1="398.80999999999995" x2="390.9" y2="398.80999999999995" stroke="#c8c8c8" stroke-width="1" />
<text x="384.5" y="403.2099999999999" font-size="10" text-anchor="end" fill="#262626" font-weight="normal" font-family='"Liberation Sans", sans-serif' >1540</text>
<line x1="388.4" y1="438.8" x2="390.9" y2="438.8" stroke="#c8c8c8" stroke-width="1" />
<line x1="650.5" y1="438.8" x2="648" y2="438.8" stroke="#c8c8c8" stroke-width="1" />
<text x="384.5" y="443.2" font-size="10" text-anchor="end" fill="#262626" font-weight="normal" font-family='"Liberation Sans", sans-serif' >1320</text>
<line x1="388.4" y1="474.40000000000003" x2="390.9" y2="474.40000000000003" stroke="#c8c8c8" stroke-width="1" />
<line x1="650.5" y1="474.40000000000003" x2="648" y2="474.40000000000003" stroke="#c8c8c8" stroke-width="1" />
<text x="384.5" y="478.8" font-size="10" text-anchor="end" fill="#262626" font-weight="normal" font-family='"Liberation Sans", sans-serif' >1300</text>
<text x="354.6" y="378" font-size="11.5" text-anchor="middle" fill="#262626" font-weight="normal" font-family='"Liberation Sans", sans-serif' transform="rotate(-90 354.6 378)" >Wavelength [nm]</text>
<text x="449.5" y="503.2" font-size="11.5" text-anchor="start" fill="#555" font-weight="normal" font-family='"Liberation Serif", serif' textLength="133" lengthAdjust="spacing">Frequency, <tspan font-style="italic">ω<tspan font-size="7.5" dy="2">m</tspan></tspan><tspan dy="-2">/(2</tspan><tspan font-style="italic">π</tspan>) [MHz]</text>
<text x="622.3" y="288.3" font-size="16" text-anchor="start" fill="#111" font-weight="normal" font-family='"Liberation Sans", sans-serif' >(d)</text>
<circle cx="390.3" cy="273.2" r="2.8" fill="#FF0000"/>
<circle cx="394.6" cy="277.2" r="2.8" fill="#FF0000"/>
<circle cx="401.9" cy="283" r="2.8" fill="#FF0000"/>
<circle cx="408" cy="289" r="2.8" fill="#FF0000"/>
<circle cx="415.5" cy="294.7" r="2.8" fill="#FF0000"/>
<circle cx="422.7" cy="300.7" r="2.8" fill="#FF0000"/>
<circle cx="429.4" cy="306.4" r="2.8" fill="#FF0000"/>
<circle cx="436.3" cy="312.1" r="2.8" fill="#FF0000"/>
<circle cx="443.3" cy="318" r="2.8" fill="#FF0000"/>
<circle cx="450.5" cy="324.2" r="2.8" fill="#FF0000"/>
<circle cx="457.3" cy="329.8" r="2.8" fill="#FF0000"/>
<circle cx="464.3" cy="335.7" r="2.8" fill="#FF0000"/>
<circle cx="466.1" cy="336.8" r="2.8" fill="#FF0000"/>
<circle cx="470.8" cy="340.8" r="2.8" fill="#FF0000"/>
<circle cx="477.8" cy="346.2" r="2.8" fill="#FF0000"/>
<circle cx="481.3" cy="349" r="2.8" fill="#FF0000"/>
<circle cx="484.8" cy="351.7" r="2.8" fill="#FF0000"/>
<circle cx="491.8" cy="357.6" r="2.8" fill="#FF0000"/>
<circle cx="498.8" cy="363.4" r="2.8" fill="#FF0000"/>
<circle cx="505.8" cy="369" r="2.8" fill="#FF0000"/>
<circle cx="533.2" cy="391.4" r="2.8" fill="#FF0000"/>
<circle cx="540.2" cy="396.5" r="2.8" fill="#FF0000"/>
<circle cx="547.1" cy="402" r="2.8" fill="#FF0000"/>
<circle cx="554.2" cy="407.8" r="2.8" fill="#FF0000"/>
<circle cx="561" cy="413.4" r="2.8" fill="#FF0000"/>
<circle cx="568.2" cy="418.9" r="2.8" fill="#FF0000"/>
<circle cx="616.3" cy="451.3" r="2.8" fill="#FF0000"/>
<path d="M388.35,270.18 C389.88,271.53 394.48,275.58 397.54,278.26 C400.61,280.95 403.67,283.63 406.74,286.29 C409.80,288.96 412.86,291.62 415.93,294.27 C418.99,296.92 422.06,299.57 425.12,302.20 C428.18,304.83 431.25,307.46 434.31,310.07 C437.38,312.69 440.44,315.29 443.51,317.89 C446.57,320.49 449.63,323.07 452.70,325.65 C455.76,328.23 458.83,330.80 461.89,333.36 C464.95,335.93 468.02,338.48 471.08,341.02 C474.15,343.57 477.21,346.10 480.28,348.63 C483.34,351.15 486.40,353.67 489.47,356.18 C492.53,358.69 495.60,361.19 498.66,363.68 C501.72,366.17 504.79,368.65 507.85,371.12 C510.92,373.59 513.98,376.06 517.05,378.51 C520.11,380.97 523.17,383.41 526.24,385.85 C529.30,388.29 532.37,390.72 535.43,393.13 C538.49,395.55 541.56,397.96 544.62,400.37 C547.69,402.77 550.75,405.16 553.82,407.54 C556.88,409.93 559.94,412.30 563.01,414.67 C566.07,417.03 570.67,420.56 572.20,421.74" fill="none" stroke="#0072BD" stroke-width="1.6" stroke-linejoin="round" />
<line x1="598.4" y1="438.4" x2="650.2" y2="468.1" stroke="#0072BD" stroke-width="1.5" />
<circle cx="388" cy="381.9" r="2.6" fill="#1b6f8f" stroke="#06303f" stroke-width="1"/>
<text x="359.4" y="385.6" font-size="9.2" text-anchor="start" fill="#1f3a7a" font-weight="bold" font-family='"Liberation Sans", sans-serif' >Pump</text>
<rect x="509.5" y="273.3" width="69.39999999999998" height="48.0" fill="#fff" stroke="#d0d0d0" stroke-width="0.8"/>
<path d="M509.80,320.70 C511.22,320.70 515.60,320.70 518.30,320.70 C521.00,320.70 524.07,320.90 526.00,320.70 C527.93,320.50 528.65,320.02 529.90,319.50 C531.15,318.98 532.47,317.67 533.50,317.60 C534.53,317.53 535.27,318.58 536.10,319.10 C536.93,319.62 537.72,321.42 538.50,320.70 C539.28,319.98 540.03,319.40 540.80,314.80 C541.57,310.20 542.32,299.05 543.10,293.10 C543.88,287.15 544.80,282.42 545.50,279.10 C546.20,275.78 546.67,273.20 547.30,273.20 C547.93,273.20 548.65,275.78 549.30,279.10 C549.95,282.42 550.47,287.93 551.20,293.10 C551.93,298.27 552.85,305.70 553.70,310.10 C554.55,314.50 555.22,317.88 556.30,319.50 C557.38,321.12 559.03,319.55 560.20,319.80 C561.37,320.05 561.75,321.12 563.30,321.00 C564.85,320.88 567.68,319.15 569.50,319.10 C571.32,319.05 572.63,320.38 574.20,320.70 C575.77,321.02 578.12,320.95 578.90,321.00" fill="none" stroke="#FF0000" stroke-width="1.1" stroke-linejoin="round" />
<line x1="509.8" y1="321.3" x2="509.8" y2="319.8" stroke="#d0d0d0" stroke-width="1" />
<line x1="509.8" y1="273.3" x2="509.8" y2="274.8" stroke="#d0d0d0" stroke-width="1" />
<text x="509.8" y="330.2" font-size="6.0" text-anchor="middle" fill="#333" font-weight="normal" font-family='"Liberation Sans", sans-serif' >1571.5</text>
<line x1="532.5" y1="321.3" x2="532.5" y2="319.8" stroke="#d0d0d0" stroke-width="1" />
<line x1="532.5" y1="273.3" x2="532.5" y2="274.8" stroke="#d0d0d0" stroke-width="1" />
<text x="532.5" y="330.2" font-size="6.0" text-anchor="middle" fill="#333" font-weight="normal" font-family='"Liberation Sans", sans-serif' >1572</text>
<line x1="555.8" y1="321.3" x2="555.8" y2="319.8" stroke="#d0d0d0" stroke-width="1" />
<line x1="555.8" y1="273.3" x2="555.8" y2="274.8" stroke="#d0d0d0" stroke-width="1" />
<text x="555.8" y="330.2" font-size="6.0" text-anchor="middle" fill="#333" font-weight="normal" font-family='"Liberation Sans", sans-serif' >1572.5</text>
<line x1="578.5" y1="321.3" x2="578.5" y2="319.8" stroke="#d0d0d0" stroke-width="1" />
<line x1="578.5" y1="273.3" x2="578.5" y2="274.8" stroke="#d0d0d0" stroke-width="1" />
<text x="578.5" y="330.2" font-size="6.0" text-anchor="middle" fill="#333" font-weight="normal" font-family='"Liberation Sans", sans-serif' >1573</text>
<line x1="509.5" y1="273.8" x2="511.0" y2="273.8" stroke="#d0d0d0" stroke-width="1" />
<line x1="578.9" y1="273.8" x2="577.4" y2="273.8" stroke="#d0d0d0" stroke-width="1" />
<text x="507.90000000000003" y="275.96000000000004" font-size="6.0" text-anchor="end" fill="#333" font-weight="normal" font-family='"Liberation Sans", sans-serif' >1</text>
<line x1="509.5" y1="297.8" x2="511.0" y2="297.8" stroke="#d0d0d0" stroke-width="1" />
<line x1="578.9" y1="297.8" x2="577.4" y2="297.8" stroke="#d0d0d0" stroke-width="1" />
<text x="507.90000000000003" y="299.96000000000004" font-size="6.0" text-anchor="end" fill="#333" font-weight="normal" font-family='"Liberation Sans", sans-serif' >0.5</text>
<line x1="509.5" y1="321.5" x2="511.0" y2="321.5" stroke="#d0d0d0" stroke-width="1" />
<line x1="578.9" y1="321.5" x2="577.4" y2="321.5" stroke="#d0d0d0" stroke-width="1" />
<text x="507.90000000000003" y="323.66" font-size="6.0" text-anchor="end" fill="#333" font-weight="normal" font-family='"Liberation Sans", sans-serif' >0</text>
<text x="544.2" y="336.5" font-size="7.1" text-anchor="middle" fill="#333" font-weight="normal" font-family='"Liberation Sans", sans-serif' >Wavelength [nm]</text>
<text x="499.6" y="303.6" font-size="6.8" text-anchor="middle" fill="#333" font-weight="normal" font-family='"Liberation Sans", sans-serif' transform="rotate(-90 499.6 303.6)" >Normalized power</text>
<rect x="406" y="347" width="66.69999999999999" height="48.30000000000001" fill="#fff" stroke="#d0d0d0" stroke-width="0.8"/>
<path d="M406.00,395.10 C407.17,395.10 411.20,395.23 413.00,395.10 C414.80,394.97 415.25,395.00 416.80,394.30 C418.35,393.60 420.75,391.02 422.30,390.90 C423.85,390.78 424.93,392.97 426.10,393.60 C427.27,394.23 428.38,396.13 429.30,394.70 C430.22,393.27 430.83,388.82 431.60,385.00 C432.37,381.18 433.13,374.52 433.90,371.80 C434.67,369.08 435.42,371.42 436.20,368.70 C436.98,365.98 437.90,359.12 438.60,355.50 C439.30,351.88 439.75,346.73 440.40,347.00 C441.05,347.27 441.77,352.32 442.50,357.10 C443.23,361.88 444.03,370.02 444.80,375.70 C445.57,381.38 446.20,388.22 447.10,391.20 C448.00,394.18 449.17,393.20 450.20,393.60 C451.23,394.00 452.27,393.35 453.30,393.60 C454.33,393.85 454.85,395.28 456.40,395.10 C457.95,394.92 460.78,392.63 462.60,392.50 C464.42,392.37 465.62,394.00 467.30,394.30 C468.98,394.60 471.80,394.30 472.70,394.30" fill="none" stroke="#FF0000" stroke-width="1.1" stroke-linejoin="round" />
<line x1="417.5" y1="395.3" x2="417.5" y2="393.8" stroke="#d0d0d0" stroke-width="1" />
<line x1="417.5" y1="347" x2="417.5" y2="348.5" stroke="#d0d0d0" stroke-width="1" />
<text x="417.5" y="402.7" font-size="5.2" text-anchor="middle" fill="#333" font-weight="normal" font-family='"Liberation Sans", sans-serif' >1604</text>
<line x1="439.8" y1="395.3" x2="439.8" y2="393.8" stroke="#d0d0d0" stroke-width="1" />
<line x1="439.8" y1="347" x2="439.8" y2="348.5" stroke="#d0d0d0" stroke-width="1" />
<text x="439.8" y="402.7" font-size="5.2" text-anchor="middle" fill="#333" font-weight="normal" font-family='"Liberation Sans", sans-serif' >1604.5</text>
<line x1="461.6" y1="395.3" x2="461.6" y2="393.8" stroke="#d0d0d0" stroke-width="1" />
<line x1="461.6" y1="347" x2="461.6" y2="348.5" stroke="#d0d0d0" stroke-width="1" />
<text x="461.6" y="402.7" font-size="5.2" text-anchor="middle" fill="#333" font-weight="normal" font-family='"Liberation Sans", sans-serif' >1605</text>
<line x1="406" y1="347.2" x2="407.5" y2="347.2" stroke="#d0d0d0" stroke-width="1" />
<line x1="472.7" y1="347.2" x2="471.2" y2="347.2" stroke="#d0d0d0" stroke-width="1" />
<text x="404.90000000000003" y="349.072" font-size="5.2" text-anchor="end" fill="#333" font-weight="normal" font-family='"Liberation Sans", sans-serif' >1</text>
<line x1="406" y1="371.6" x2="407.5" y2="371.6" stroke="#d0d0d0" stroke-width="1" />
<line x1="472.7" y1="371.6" x2="471.2" y2="371.6" stroke="#d0d0d0" stroke-width="1" />
<text x="404.90000000000003" y="373.47200000000004" font-size="5.2" text-anchor="end" fill="#333" font-weight="normal" font-family='"Liberation Sans", sans-serif' >0.5</text>
<line x1="406" y1="396" x2="407.5" y2="396" stroke="#d0d0d0" stroke-width="1" />
<line x1="472.7" y1="396" x2="471.2" y2="396" stroke="#d0d0d0" stroke-width="1" />
<text x="404.90000000000003" y="397.872" font-size="5.2" text-anchor="end" fill="#333" font-weight="normal" font-family='"Liberation Sans", sans-serif' >0</text>
<text x="439.35" y="409.5" font-size="5.9" text-anchor="middle" fill="#333" font-weight="normal" font-family='"Liberation Sans", sans-serif' >Wavelength [nm]</text>
<text x="396.4" y="371.8" font-size="5.8" text-anchor="middle" fill="#333" font-weight="normal" font-family='"Liberation Sans", sans-serif' transform="rotate(-90 396.4 371.8)" >Normalized power</text>
<rect x="479.3" y="407.5" width="69.90000000000003" height="49.80000000000001" fill="#fff" stroke="#d0d0d0" stroke-width="0.8"/>
<path d="M479.10,454.80 C480.27,454.87 483.90,455.07 486.10,455.20 C488.30,455.33 490.63,455.53 492.30,455.60 C493.97,455.67 494.93,455.92 496.10,455.60 C497.27,455.28 498.25,453.83 499.30,453.70 C500.35,453.57 501.55,454.37 502.40,454.80 C503.25,455.23 503.77,457.73 504.40,456.30 C505.03,454.87 505.50,451.23 506.20,446.20 C506.90,441.17 507.82,432.05 508.60,426.10 C509.38,420.15 510.17,413.57 510.90,410.50 C511.63,407.43 512.35,407.18 513.00,407.70 C513.65,408.22 514.12,409.77 514.80,413.60 C515.48,417.43 516.33,424.75 517.10,430.70 C517.87,436.65 518.62,444.95 519.40,449.30 C520.18,453.65 520.75,456.02 521.80,456.80 C522.85,457.58 524.42,454.08 525.70,454.00 C526.98,453.92 527.83,455.92 529.50,456.30 C531.17,456.68 533.62,456.22 535.70,456.30 C537.78,456.38 539.78,456.67 542.00,456.80 C544.22,456.93 547.83,457.05 549.00,457.10" fill="none" stroke="#FF0000" stroke-width="1.1" stroke-linejoin="round" />
<line x1="485.4" y1="457.3" x2="485.4" y2="455.8" stroke="#d0d0d0" stroke-width="1" />
<line x1="485.4" y1="407.5" x2="485.4" y2="409.0" stroke="#d0d0d0" stroke-width="1" />
<text x="485.4" y="465.9" font-size="6.1" text-anchor="middle" fill="#333" font-weight="normal" font-family='"Liberation Sans", sans-serif' >1543.5</text>
<line x1="508.3" y1="457.3" x2="508.3" y2="455.8" stroke="#d0d0d0" stroke-width="1" />
<line x1="508.3" y1="407.5" x2="508.3" y2="409.0" stroke="#d0d0d0" stroke-width="1" />
<text x="508.3" y="465.9" font-size="6.1" text-anchor="middle" fill="#333" font-weight="normal" font-family='"Liberation Sans", sans-serif' >1544</text>
<line x1="532" y1="457.3" x2="532" y2="455.8" stroke="#d0d0d0" stroke-width="1" />
<line x1="532" y1="407.5" x2="532" y2="409.0" stroke="#d0d0d0" stroke-width="1" />
<text x="532" y="465.9" font-size="6.1" text-anchor="middle" fill="#333" font-weight="normal" font-family='"Liberation Sans", sans-serif' >1544.5</text>
<line x1="479.3" y1="408.7" x2="480.8" y2="408.7" stroke="#d0d0d0" stroke-width="1" />
<line x1="549.2" y1="408.7" x2="547.7" y2="408.7" stroke="#d0d0d0" stroke-width="1" />
<text x="477.90000000000003" y="410.896" font-size="6.1" text-anchor="end" fill="#333" font-weight="normal" font-family='"Liberation Sans", sans-serif' >1</text>
<line x1="479.3" y1="433.8" x2="480.8" y2="433.8" stroke="#d0d0d0" stroke-width="1" />
<line x1="549.2" y1="433.8" x2="547.7" y2="433.8" stroke="#d0d0d0" stroke-width="1" />
<text x="477.90000000000003" y="435.99600000000004" font-size="6.1" text-anchor="end" fill="#333" font-weight="normal" font-family='"Liberation Sans", sans-serif' >0.5</text>
<text x="514.25" y="472.7" font-size="7.0" text-anchor="middle" fill="#333" font-weight="normal" font-family='"Liberation Sans", sans-serif' >Wavelength [nm]</text>
<text x="469.3" y="437.1" font-size="6.9" text-anchor="middle" fill="#333" font-weight="normal" font-family='"Liberation Sans", sans-serif' transform="rotate(-90 469.3 437.1)" >Normalized power</text>
<rect x="574.4" y="345.6" width="68.20000000000005" height="49.599999999999966" fill="#fff" stroke="#d0d0d0" stroke-width="0.8"/>
<path d="M574.60,394.80 C575.58,394.67 579.00,394.38 580.50,394.00 C582.00,393.62 582.57,393.53 583.60,392.50 C584.63,391.47 585.78,389.10 586.70,387.80 C587.62,386.50 588.58,386.77 589.10,384.70 C589.62,382.63 589.47,375.27 589.80,375.40 C590.13,375.53 590.78,385.25 591.10,385.50 C591.42,385.75 591.27,378.28 591.70,376.90 C592.13,375.52 592.97,376.55 593.70,377.20 C594.43,377.85 595.18,379.30 596.10,380.80 C597.02,382.30 598.17,384.13 599.20,386.20 C600.23,388.27 601.40,391.85 602.30,393.20 C603.20,394.55 603.83,395.47 604.60,394.30 C605.37,393.13 606.12,391.17 606.90,386.20 C607.68,381.23 608.65,368.50 609.30,364.50 C609.95,360.50 610.28,364.02 610.80,362.20 C611.32,360.38 611.97,354.52 612.40,353.60 C612.83,352.68 612.88,358.03 613.40,356.70 C613.92,355.37 614.90,345.60 615.50,345.60 C616.10,345.60 616.48,353.03 617.00,356.70 C617.52,360.37 618.08,364.75 618.60,367.60 C619.12,370.45 619.45,370.43 620.10,373.80 C620.75,377.17 621.85,384.75 622.50,387.80 C623.15,390.85 623.23,391.53 624.00,392.10 C624.77,392.67 626.07,391.27 627.10,391.20 C628.13,391.13 629.17,391.70 630.20,391.70 C631.23,391.70 632.27,391.28 633.30,391.20 C634.33,391.12 635.48,390.78 636.40,391.20 C637.32,391.62 637.77,393.18 638.80,393.70 C639.83,394.22 641.97,394.20 642.60,394.30" fill="none" stroke="#FF0000" stroke-width="1.1" stroke-linejoin="round" />
<line x1="586.9" y1="395.2" x2="586.9" y2="393.7" stroke="#d0d0d0" stroke-width="1" />
<line x1="586.9" y1="345.6" x2="586.9" y2="347.1" stroke="#d0d0d0" stroke-width="1" />
<text x="586.9" y="402.4" font-size="5.6" text-anchor="middle" fill="#333" font-weight="normal" font-family='"Liberation Sans", sans-serif' >4280</text>
<line x1="601.9" y1="395.2" x2="601.9" y2="393.7" stroke="#d0d0d0" stroke-width="1" />
<line x1="601.9" y1="345.6" x2="601.9" y2="347.1" stroke="#d0d0d0" stroke-width="1" />
<text x="601.9" y="402.4" font-size="5.6" text-anchor="middle" fill="#333" font-weight="normal" font-family='"Liberation Sans", sans-serif' >4285</text>
<line x1="616.8" y1="395.2" x2="616.8" y2="393.7" stroke="#d0d0d0" stroke-width="1" />
<line x1="616.8" y1="345.6" x2="616.8" y2="347.1" stroke="#d0d0d0" stroke-width="1" />
<text x="616.8" y="402.4" font-size="5.6" text-anchor="middle" fill="#333" font-weight="normal" font-family='"Liberation Sans", sans-serif' >4290</text>
<line x1="631.7" y1="395.2" x2="631.7" y2="393.7" stroke="#d0d0d0" stroke-width="1" />
<line x1="631.7" y1="345.6" x2="631.7" y2="347.1" stroke="#d0d0d0" stroke-width="1" />
<text x="631.7" y="402.4" font-size="5.6" text-anchor="middle" fill="#333" font-weight="normal" font-family='"Liberation Sans", sans-serif' >4295</text>
<line x1="574.4" y1="346" x2="575.9" y2="346" stroke="#d0d0d0" stroke-width="1" />
<line x1="642.6" y1="346" x2="641.1" y2="346" stroke="#d0d0d0" stroke-width="1" />
<text x="572.9" y="348.016" font-size="5.6" text-anchor="end" fill="#333" font-weight="normal" font-family='"Liberation Sans", sans-serif' >1</text>
<line x1="574.4" y1="370.6" x2="575.9" y2="370.6" stroke="#d0d0d0" stroke-width="1" />
<line x1="642.6" y1="370.6" x2="641.1" y2="370.6" stroke="#d0d0d0" stroke-width="1" />
<text x="572.9" y="372.61600000000004" font-size="5.6" text-anchor="end" fill="#333" font-weight="normal" font-family='"Liberation Sans", sans-serif' >0.5</text>
<line x1="574.4" y1="395.6" x2="575.9" y2="395.6" stroke="#d0d0d0" stroke-width="1" />
<line x1="642.6" y1="395.6" x2="641.1" y2="395.6" stroke="#d0d0d0" stroke-width="1" />
<text x="572.9" y="397.61600000000004" font-size="5.6" text-anchor="end" fill="#333" font-weight="normal" font-family='"Liberation Sans", sans-serif' >0</text>
<text x="608.5" y="409.5" font-size="6.0" text-anchor="middle" fill="#333" font-weight="normal" font-family='"Liberation Sans", sans-serif' >Frequency [MHz]</text>
<text x="564.4" y="370" font-size="5.9" text-anchor="middle" fill="#333" font-weight="normal" font-family='"Liberation Sans", sans-serif' transform="rotate(-90 564.4 370)" >Normalized power</text>
<line x1="413.7" y1="342.5" x2="403.901331299634" y2="294.5380953087349" stroke="#1a5a78" stroke-width="3" stroke-dasharray="8,3.5"/>
<polygon points="402.3,286.7 408.5104263232517,294.61710836628265 399.6925691009249,296.4186060783709" fill="#1a5a78"/>
<line x1="489.7" y1="311.8" x2="478.5881965708802" y2="329.8839153846459" stroke="#1a5a78" stroke-width="3" stroke-dasharray="8,3.5"/>
<polygon points="474.4,336.7 475.27767354610353,326.67604423660646 482.94576873837696,331.3877653788468" fill="#1a5a78"/>
<line x1="506.2" y1="405" x2="522.2664322823326" y2="397.99668336411145" stroke="#1a5a78" stroke-width="3" stroke-dasharray="8,3.5"/>
<polygon points="529.6,394.8 523.1478707099369,402.52140062581327 519.5516019253115,394.27113694343745" fill="#1a5a78"/>
<line x1="599.2" y1="414.6" x2="608.0175600136462" y2="435.7176857469675" stroke="#1a5a78" stroke-width="3" stroke-dasharray="8,3.5"/>
<polygon points="611.1,443.1 603.4797032480211,436.5287689576625 611.7848067826827,433.0610239730144" fill="#1a5a78"/>
</svg>
</body></html>
